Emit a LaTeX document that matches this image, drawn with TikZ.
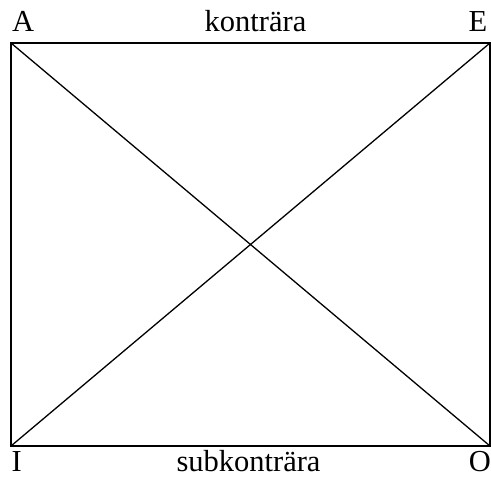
\documentclass[tikz,border=0pt]{standalone}
\usepackage{fontspec}
\setmainfont{Liberation Serif}
\begin{document}
\begin{tikzpicture}[x=1pt,y=1pt,
  lbl/.style={inner sep=0pt,font=\fontsize{30.5}{36}\selectfont},
  edge/.style={line width=1.3pt,line join=miter}]
\useasboundingbox (0,0) rectangle (491,477);
\coordinate (cA) at (11,434);
\coordinate (cE) at (490,434);
\coordinate (cI) at (11,31);
\coordinate (cO) at (490,31);
\draw[edge] (cA) -- (cE) -- (cO) -- (cI) -- cycle;
\draw[edge] (cA) -- (cO);
\draw[edge] (cI) -- (cE);
\node[lbl,anchor=base west] (lA) at (12,445) {A};
\node[lbl,anchor=base east] (lE) at (487.5,445) {E};
\node[lbl,anchor=base west] (lI) at (11.5,5) {I};
\node[lbl,anchor=base east] (lO) at (491,5) {O};
\node[lbl,anchor=base] (top) at (255.5,445) {konträra};
\node[lbl,anchor=base] (bot) at (248.5,5) {subkonträra};
\end{tikzpicture}
\end{document}
